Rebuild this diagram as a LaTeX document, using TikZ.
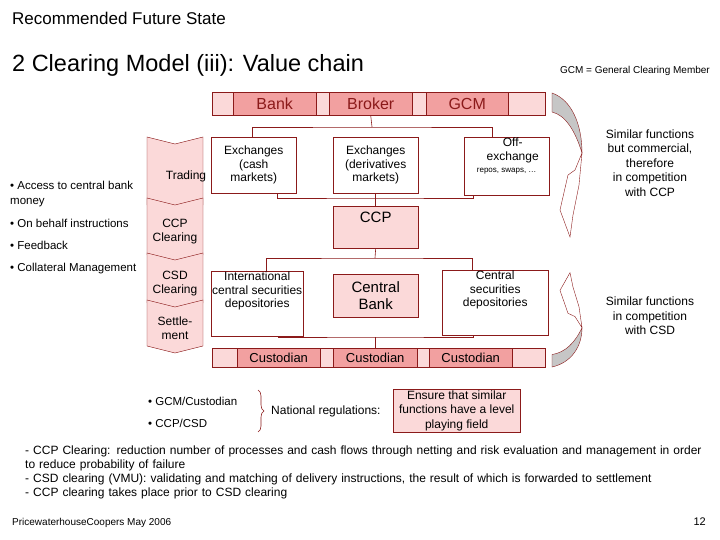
\documentclass[tikz,border=0pt]{standalone}
\usepackage{fontspec}
\setmainfont{Liberation Sans}
\usetikzlibrary{arrows.meta,decorations.pathreplacing}
\definecolor{lightpink}{HTML}{FBD9D9}
\definecolor{darkpink}{HTML}{F2A0A0}
\definecolor{wine}{HTML}{8B1A1A}
\tikzstyle{base} = [rectangle, draw=wine, inner sep=1pt, align=center, font=\fontsize{12}{13.5}\selectfont]
\tikzstyle{market} = [base, fill=white, minimum width=85pt, minimum height=56pt, anchor=north west]
\tikzstyle{pinkbox} = [base, fill=lightpink]
\tikzstyle{cell} = [rectangle, fill=darkpink, draw=wine, minimum height=23pt, inner sep=0pt, text=wine, anchor=north west]
\tikzstyle{txt} = [inner sep=0pt, anchor=base west, font=\fontsize{12}{14}\selectfont]
\tikzstyle{line} = [draw=wine, line width=0.6pt]
\newcommand{\stage}[5]{% x1,x2,top,bottom,name
  \draw[draw=wine, fill=lightpink] (#1,#3) -- (#1/2+#2/2,#3+7) -- (#2,#3) -- (#2,#4-7) -- (#1/2+#2/2,#4) -- (#1,#4-7) -- cycle;
  \node[align=center, font=\fontsize{12}{14}\selectfont] at (#1/2+#2/2,#3/2+#4/2+2) {#5};}
\newcommand{\bentarrow}{%
  \path[draw=wine, fill=gray!45] (0,0) .. controls (20,7) and (30,32) .. (30,60) .. controls (23,37) and (13,22) .. (0,19) -- cycle;
  \path[draw=wine, fill=white] (30,60) -- (27,92) -- (21,122) -- (18,144) -- (8,117) -- (16,82) -- (23,77) -- cycle;}

\begin{document}
\begin{tikzpicture}[x=1pt, y=-1pt]
    \useasboundingbox (0,0) rectangle (720,540);

    % headings
    \node (title) [txt, font=\fontsize{17}{19}\selectfont] at (12,25) {Recommended Future State};
    \node (subtitle) [txt, font=\fontsize{23.5}{26}\selectfont] at (12,72) {2 Clearing Model (iii): Value chain};
    \node (gcmnote) [inner sep=0pt, anchor=base east, font=\fontsize{10}{12}\selectfont] at (710,74) {GCM = General Clearing Member};

    % participants bar
    \node (topbar) [rectangle, fill=lightpink, draw=wine, minimum width=333pt, minimum height=23pt, anchor=north west] at (212,92) {};
    \node (bank) [cell, minimum width=83pt, font=\fontsize{16}{18}\selectfont] at (233,92) {Bank};
    \node (broker) [cell, minimum width=83pt, font=\fontsize{16}{18}\selectfont] at (329,92) {Broker};
    \node (gcm) [cell, minimum width=82pt, font=\fontsize{16}{18}\selectfont] at (426,92) {GCM};

    % trading venues
    \node (cash) [market] at (211,137) {Exchanges\\(cash\\markets)};
    \node (deriv) [market] at (333,137) {Exchanges\\(derivatives\\markets)};
    \node (offex) [market, anchor=north west] at (464,137) {\hphantom{xx}Off-\\\hphantom{xx}exchange\\[-1pt]{\fontsize{8}{9}\selectfont repos, swaps, \dots}\\[8pt]};
    \node (ccp) [pinkbox, minimum width=85pt, minimum height=42pt, anchor=north west, font=\fontsize{15}{17}\selectfont] at (333,206) {\raisebox{20pt}{CCP}};

    % depositories
    \node (icsd) [market, minimum height=57pt] at (211,271) {International\\central securities\\depositories\\[14pt]};
    \node (cbank) [pinkbox, minimum width=85pt, minimum height=43pt, anchor=north west, font=\fontsize{15}{17}\selectfont] at (333,274) {Central\\Bank};
    \node (csd) [market, minimum width=106pt, minimum height=57pt] at (442,270) {Central\\securities\\depositories\\[14pt]};

    % custodian bar
    \node (botbar) [rectangle, fill=lightpink, draw=wine, minimum width=333pt, minimum height=19pt, anchor=north west] at (212,348) {};
    \node (cust1) [cell, minimum width=83pt, minimum height=19pt, text=black, font=\fontsize{13}{15}\selectfont] at (237,348) {Custodian};
    \node (cust2) [cell, minimum width=84pt, minimum height=19pt, text=black, font=\fontsize{13}{15}\selectfont] at (333,348) {Custodian};
    \node (cust3) [cell, minimum width=83pt, minimum height=19pt, text=black, font=\fontsize{13}{15}\selectfont] at (429,348) {Custodian};

    % connectors
    \coordinate (upjoin) at (372,127);
    \coordinate (midjoin) at (375,198);
    \coordinate (lowjoin) at (375,258);
    \coordinate (custjoin) at (375,337);
    \draw[line] (broker.south) -- (upjoin);
    \draw[line] (cash.north -| 252,0) |- (upjoin) -| (offex.north -| 492,0);
    \draw[line] (cash.south -| 277,0) |- (midjoin) -| (offex.south -| 473,0);
    \draw[line] (deriv.south) -- (ccp.north);
    \draw[line] (ccp.south) -- (lowjoin);
    \draw[line] (icsd.north -| 266,0) |- (lowjoin) -| (csd.north -| 472,0);
    \draw[line] (icsd.south -| 278,0) |- (custjoin) -| (csd.south -| 473,0);
    \draw[line] (custjoin) -- (botbar.north -| custjoin);

    % stages
    \stage{147}{203}{137}{212}{\hspace{22pt}Trading}
    \stage{147}{203}{198}{262}{CCP\\Clearing}
    \stage{147}{203}{253}{310}{CSD\\Clearing}
    \stage{147}{203}{300}{353}{Settle-\\ment}

    % functions
    \node (access) [txt, align=left, font=\fontsize{11.5}{15}\selectfont, anchor=north west] at (10,181) {\textbullet\ Access to central bank\\money};
    \node (behalf) [txt, font=\fontsize{11.5}{13}\selectfont] at (10,228) {\textbullet\ On behalf instructions};
    \node (feedback) [txt, font=\fontsize{11.5}{13}\selectfont] at (10,249) {\textbullet\ Feedback};
    \node (collateral) [txt, font=\fontsize{11.5}{13}\selectfont] at (10,271) {\textbullet\ Collateral Management};

    % competition arrows
    \begin{scope}[shift={(552,93)}]\bentarrow\end{scope}
    \begin{scope}[shift={(552,367)}, yscale=-0.655]\bentarrow\end{scope}
    \node (compccp) [align=center, font=\fontsize{12}{14.5}\selectfont] at (650,163) {Similar functions\\but commercial,\\therefore\\in competition\\with CCP};
    \node (compcsd) [align=center, font=\fontsize{12}{14.5}\selectfont] at (650,316) {Similar functions\\in competition\\with CSD};

    % regulation
    \node (reg1) [txt, font=\fontsize{11.5}{13}\selectfont] at (148,405) {\textbullet\ GCM/Custodian};
    \node (reg2) [txt, font=\fontsize{11.5}{13}\selectfont] at (148,427) {\textbullet\ CCP/CSD};
    \draw[line, decorate, decoration={brace, amplitude=6pt}] (258,390) -- (258,432);
    \node (national) [txt, font=\fontsize{12}{14}\selectfont] at (271,414) {National regulations:};
    \node (level) [pinkbox, minimum width=127pt, minimum height=43pt, anchor=north west, font=\fontsize{12}{14.5}\selectfont] at (393,389) {Ensure that similar\\functions have a level\\playing field};

    % notes
    \node (notes) [txt, anchor=north west, align=left, text width=690pt, font=\fontsize{12}{14}\selectfont] at (25,446) {\hyphenpenalty=10000 - CCP Clearing: reduction number of processes and cash flows through netting and risk evaluation and management in order to reduce probability of failure\\- CSD clearing (VMU): validating and matching of delivery instructions, the result of which is forwarded to settlement\\- CCP clearing takes place prior to CSD clearing};

    % footer
    \node (footer) [txt, font=\fontsize{10}{12}\selectfont] at (12,525) {PricewaterhouseCoopers May 2006};
    \node (page) [inner sep=0pt, anchor=base east, font=\fontsize{11}{12}\selectfont] at (706,525) {12};
\end{tikzpicture}
\end{document}
